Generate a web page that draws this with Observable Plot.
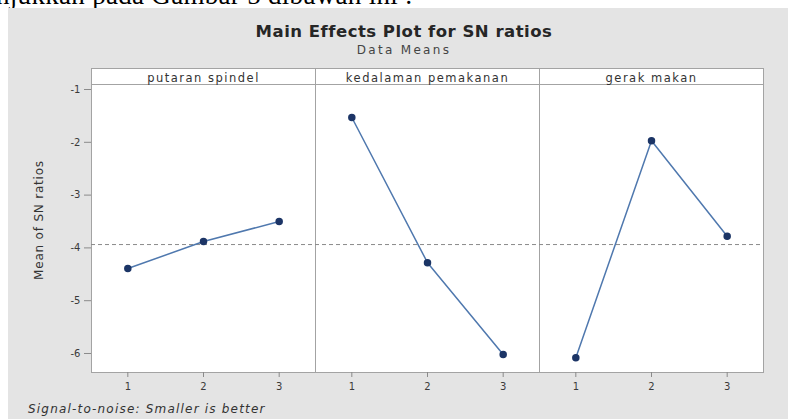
<!DOCTYPE html>
<html>
<head>
<meta charset="utf-8">
<script src="https://cdn.jsdelivr.net/npm/d3@7"></script>
<script src="https://cdn.jsdelivr.net/npm/@observablehq/plot@0.6"></script>
<style>
  html, body { margin: 0; padding: 0; background: #ffffff; width: 788px; height: 419px; overflow: hidden; position: relative; }
  #doc { position: absolute; left: -4px; top: -17.6px; font: 27px/27px "Liberation Serif", serif; letter-spacing: 0.3px; color: #000; white-space: nowrap; }
  #panel { position: absolute; left: 8px; top: 8px; width: 780px; height: 411px; background: #e4e4e4; font-family: "DejaVu Sans", sans-serif; color: #333; }
  #title { position: absolute; left: 0; width: 792px; top: 15.5px; text-align: center; font: bold 16.5px/16.5px "DejaVu Sans", sans-serif; letter-spacing: 0.5px; color: #262626; white-space: nowrap; }
  #subtitle { position: absolute; left: 0; width: 792px; top: 36px; text-align: center; font: 12px/12px "DejaVu Sans", sans-serif; letter-spacing: 2.3px; color: #444; white-space: nowrap; }
  #ylabel { position: absolute; left: 31px; top: 212px; transform: translate(-50%, -50%) rotate(-90deg); font: 12px/12px "DejaVu Sans", sans-serif; letter-spacing: 0.8px; color: #333; white-space: nowrap; }
  #foot { position: absolute; left: 20px; top: 395px; font: italic 12px/12px "DejaVu Sans", sans-serif; letter-spacing: 1.2px; color: #333; white-space: nowrap; }
  #chart { position: absolute; left: 0; top: 0; }
  .strip text { letter-spacing: 1.5px; }
</style>
</head>
<body>
<div id="doc">njukkan pada Gambar 5 dibawah ini :</div>
<div id="panel">
  <div id="chart"></div>
  <div id="title">Main Effects Plot for SN ratios</div>
  <div id="subtitle">Data Means</div>
  <div id="ylabel">Mean of SN ratios</div>
  <div id="foot">Signal-to-noise: Smaller is better</div>
</div>
<script>
const factors = ["putaran spindel", "kedalaman pemakanan", "gerak makan"];
const levels = [1, 2, 3];
const putaranSpindel = [-4.39, -3.88, -3.50];
const kedalamanPemakanan = [-1.53, -4.28, -6.02];
const gerakMakan = [-6.08, -1.97, -3.78];
const yTicks = [-1, -2, -3, -4, -5, -6];

const seriesByFactor = [putaranSpindel, kedalamanPemakanan, gerakMakan];
const rows = [];
factors.forEach((f, i) => {
  levels.forEach((lv, j) => rows.push({factor: f, level: lv, value: seriesByFactor[i][j]}));
});
const grandMean = d3.mean(rows, d => d.value);

const frameColor = "#a3a3a3";
const chart = Plot.plot({
  width: 780,
  height: 400,
  marginLeft: 82,
  marginRight: 24,
  marginTop: 76,
  marginBottom: 36,
  style: {background: "transparent", fontFamily: "DejaVu Sans, sans-serif", fontSize: "10px", color: "#3a3a3a", overflow: "visible"},
  fx: {domain: factors, padding: 0, axis: null},
  x: {domain: [0.52, 3.48], axis: null},
  y: {domain: [-6.36, -0.905], axis: null},
  marks: [
    Plot.frame({fill: "white", stroke: frameColor, insetTop: -16}),
    Plot.frame({stroke: frameColor}),
    Plot.ruleY([grandMean], {stroke: "#8a8a8a", strokeWidth: 1, strokeDasharray: "4,3"}),
    Plot.line(rows, {fx: "factor", x: "level", y: "value", stroke: "#4f78ae", strokeWidth: 1.5}),
    Plot.dot(rows, {fx: "factor", x: "level", y: "value", fill: "#1c3566", stroke: "#1c3566", r: 3}),
    Plot.axisX({ticks: levels, tickFormat: d => String(d), tickSize: 5, tickPadding: 5, stroke: "#8a8a8a", fill: "#3a3a3a", label: null, facetAnchor: "bottom"}),
    Plot.axisY({ticks: yTicks, tickFormat: d => String(d), tickSize: 7, tickPadding: 4, stroke: "#8a8a8a", fill: "#3a3a3a", label: null, facetAnchor: "left"}),
    Plot.axisFx({anchor: "top", tickSize: 0, tickPadding: 3, label: null, fontSize: 11.5, fill: "#333", className: "strip"})
  ]
});
document.getElementById("chart").appendChild(chart);
</script>
</body>
</html>
